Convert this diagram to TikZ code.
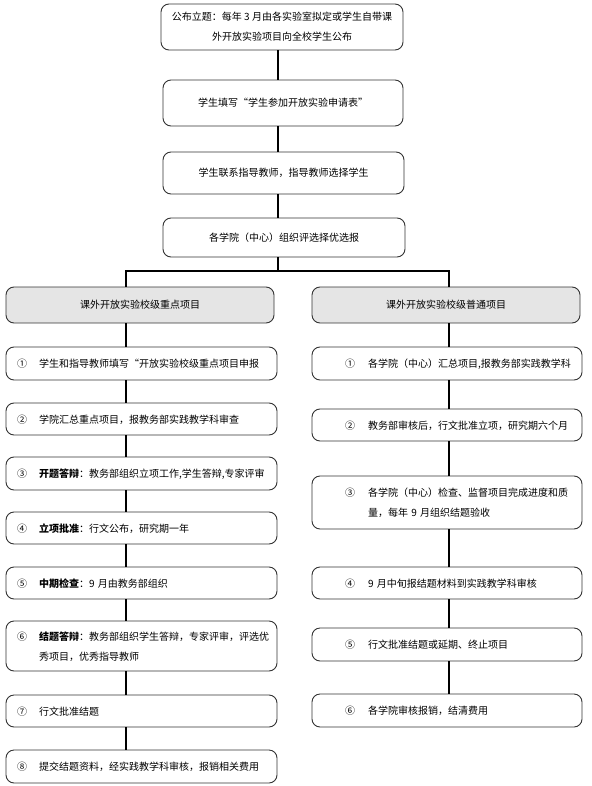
\documentclass[tikz,border=0pt]{standalone}
\usepackage{fontspec}
\setmainfont{Noto Sans CJK SC}
\usepackage{tikz}

\newcommand{\numtext}[3]{\makebox[#1][l]{#2}\begin{tabular}[t]{@{}l@{}}#3\end{tabular}}

\begin{document}
\begin{tikzpicture}[x=1pt, y=-1pt,
  every node/.append style={font=\fontsize{10pt}{20pt}\selectfont},
  box/.style={draw=black!80, line width=0.9pt, rounded corners=8pt, align=center},
  head/.style={box, fill=black!10, minimum width=268pt, minimum height=36pt},
  keystep/.style={draw=black!80, line width=0.9pt, rounded corners=8pt, inner xsep=11pt, text width=249pt, align=left, minimum height=#1},
  keystep/.default=33pt,
  normstep/.style={draw=black!80, line width=0.9pt, rounded corners=8pt, inner xsep=33pt, text width=204pt, align=left, minimum height=#1},
  normstep/.default=33pt,
  link/.style={line width=1.8pt}]

\useasboundingbox (0,0) rectangle (591,786);

% common steps
\node[box, minimum width=242pt, minimum height=46pt] (publish) at (282,27) {公布立题：每年 3 月由各实验室拟定或学生自带课\\外开放实验项目向全校学生公布};
\node[box, minimum width=240pt, minimum height=46pt] (apply) at (283,103) {学生填写“学生参加开放实验申请表”};
\node[box, minimum width=241pt, minimum height=42pt] (contact) at (283.5,173) {学生联系指导教师，指导教师选择学生};
\node[box, minimum width=242pt, minimum height=39pt] (college) at (284,237.5) {各学院（中心）组织评选择优选报};

% two branches
\node[head] (keyhead) at (140,305) {课外开放实验校级重点项目};
\node[head] (normhead) at (446,305) {课外开放实验校级普通项目};

\node[keystep] (k1) at (141.5,363.5) {\numtext{22pt}{①}{学生和指导教师填写“开放实验校级重点项目申报}};
\node[keystep=32pt] (k2) at (141.5,419) {\numtext{22pt}{②}{学院汇总重点项目，报教务部实践教学科审查}};
\node[keystep] (k3) at (141.5,473.5) {\numtext{22pt}{③}{\textbf{开题答辩}：教务部组织立项工作,学生答辩,专家评审}};
\node[keystep=32pt] (k4) at (141.5,528) {\numtext{22pt}{④}{\textbf{立项批准}：行文公布，研究期一年}};
\node[keystep=32pt] (k5) at (141.5,583) {\numtext{22pt}{⑤}{\textbf{中期检查}：9 月由教务部组织}};
\node[keystep=50pt] (k6) at (141.5,646) {\numtext{22pt}{⑥}{\textbf{结题答辩}：教务部组织学生答辩，专家评审，评选优\\秀项目，优秀指导教师}};
\node[keystep=32pt] (k7) at (141.5,711) {\numtext{22pt}{⑦}{行文批准结题}};
\node[keystep] (k8) at (141.5,766.5) {\numtext{22pt}{⑧}{提交结题资料，经实践教学科审核，报销相关费用}};

\node[normstep] (n1) at (447,363.5) {\numtext{23pt}{①}{各学院（中心）汇总项目,报教务部实践教学科}};
\node[normstep=32pt] (n2) at (447,425) {\numtext{23pt}{②}{教务部审核后，行文批准立项，研究期六个月}};
\node[normstep=53pt] (n3) at (447,502.5) {\numtext{23pt}{③}{各学院（中心）检查、监督项目完成进度和质\\量，每年 9 月组织结题验收}};
\node[normstep=32pt] (n4) at (447,583) {\numtext{23pt}{④}{9 月中旬报结题材料到实践教学科审核}};
\node[normstep] (n5) at (447,644.5) {\numtext{23pt}{⑤}{行文批准结题或延期、终止项目}};
\node[normstep] (n6) at (447,710.5) {\numtext{23pt}{⑥}{各学院审核报销，结清费用}};

% connectors
\coordinate (spine) at (278,271);
\coordinate (lspine) at (126,271);
\coordinate (rspine) at (449,271);

\draw[link] (publish.south -| spine) -- (apply.north -| spine);
\draw[link] (apply.south -| spine) -- (contact.north -| spine);
\draw[link] (contact.south -| spine) -- (college.north -| spine);
\draw[link] (college.south -| spine) -- (spine);
\draw[link] (keyhead.north -| lspine) -- (lspine) -- (rspine) -- (normhead.north -| rspine);

\draw[link] (keyhead.south -| lspine) -- (k1.north -| lspine);
\foreach \a/\b in {k1/k2, k2/k3, k3/k4, k4/k5, k5/k6, k6/k7, k7/k8}
  \draw[link] (\a.south -| lspine) -- (\b.north -| lspine);

\draw[link] (normhead.south -| rspine) -- (n1.north -| rspine);
\foreach \a/\b in {n1/n2, n2/n3, n3/n4, n4/n5, n5/n6}
  \draw[link] (\a.south -| rspine) -- (\b.north -| rspine);
\end{tikzpicture}
\end{document}
